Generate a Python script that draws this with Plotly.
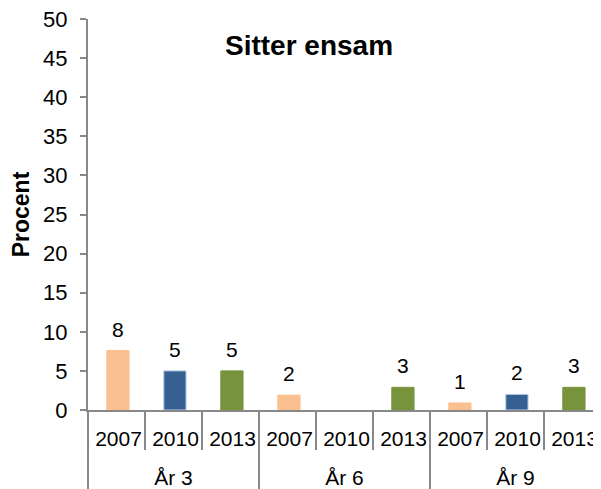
import plotly.graph_objects as go

groups = ["År 3", "År 3", "År 3", "År 6", "År 6", "År 6", "År 9", "År 9", "År 9"]
years = ["2007", "2010", "2013", "2007", "2010", "2013", "2007", "2010", "2013"]
values = [7.6, 5.0, 5.0, 1.9, None, 2.9, 0.9, 2.0, 2.9]
labels = ["8", "5", "5", "2", "", "3", "1", "2", "3"]
year_colors = {"2007": "#FAC090", "2010": "#376092", "2013": "#77933C"}
colors = [year_colors[y] for y in years]
edge = {"2007": "#FAC090", "2010": "#B9CDE5", "2013": "#77933C"}
edges = [edge[y] for y in years]

y_ticks = list(range(0, 51, 5))
title = "Sitter ensam"
y_title = "Procent"

FONT = "Liberation Sans, Arial, sans-serif"
AX = "#888888"
LBL = "<span style='font-size:21px'>%s</span>"

# group labels get a leading (smaller) line break to push them one row lower
group_text = ["<br>" + LBL % g for g in groups]
year_text = [LBL % y for y in years]

fig = go.Figure()
fig.add_trace(go.Bar(
    x=[group_text, year_text], y=values,
    marker=dict(color=colors, line=dict(color=edges, width=1)),
    width=0.39, offset=-0.17,
    hoverinfo="skip",
))

for i, (v, t) in enumerate(zip(values, labels)):
    if v is None or not t:
        continue
    fig.add_annotation(x=i, y=v, xref="x", yref="y", text=t, showarrow=False,
                       yanchor="bottom", yshift=8, xshift=1,
                       font=dict(family=FONT, size=21, color="black"))

fig.add_annotation(x=0.431, y=0.933, xref="paper", yref="paper", text="<b>" + title + "</b>",
                   showarrow=False, xanchor="center", yanchor="middle",
                   font=dict(family=FONT, size=28, color="black"))

# page body has an 8px margin, so the figure is offset by (8, 8)
fig.update_layout(
    width=593, height=481,
    margin=dict(l=80, r=0, t=11, b=79),
    paper_bgcolor="white", plot_bgcolor="white",
    showlegend=False,
    font=dict(family=FONT, size=21, color="black"),
)
fig.update_xaxes(
    type="multicategory", automargin=False,
    showline=True, linecolor=AX, linewidth=2,
    ticks="outside", tickson="boundaries", ticklen=38, tickcolor=AX, tickwidth=2,
    ticklabelstandoff=11, ticklabelshift=2,
    showdividers=True, dividercolor=AX, dividerwidth=2,
    tickfont=dict(family=FONT, size=19, color="black"),
    showgrid=False,
)
fig.update_yaxes(
    range=[0, 50], tickvals=y_ticks, ticktext=[str(v) for v in y_ticks],
    automargin=False, ticklabeloverflow="allow",
    showline=True, linecolor=AX, linewidth=2,
    ticks="outside", ticklen=6, tickcolor=AX, tickwidth=2,
    ticklabelstandoff=8,
    showgrid=False, zeroline=False,
    tickfont=dict(family=FONT, size=22, color="black"),
    title=dict(text="<b>" + y_title + "</b>", font=dict(family=FONT, size=23, color="black"), standoff=16),
)
fig.write_html("out.html")
